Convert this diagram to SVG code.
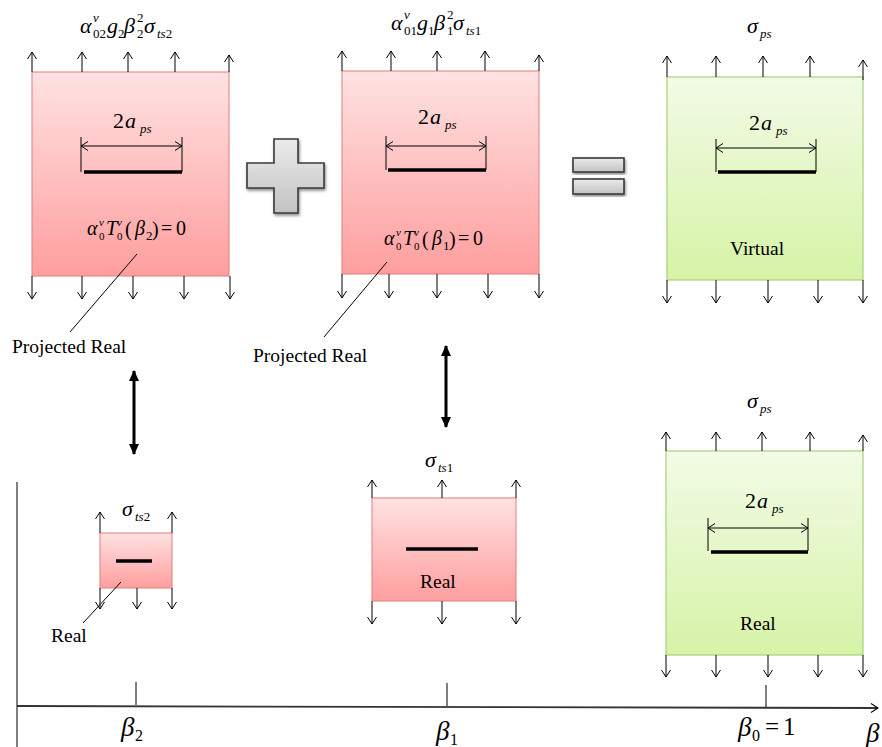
<svg xmlns="http://www.w3.org/2000/svg" width="882" height="747" viewBox="0 0 882 747" font-family="'Liberation Serif', 'DejaVu Serif', serif">
  <defs>
    <linearGradient id="pinkFill" x1="0" y1="0" x2="0" y2="1">
      <stop offset="0" stop-color="#FFE2E2"/>
      <stop offset="1" stop-color="#FF9E9E"/>
    </linearGradient>
    <linearGradient id="greenFill" x1="0" y1="0" x2="0" y2="1">
      <stop offset="0" stop-color="#F2FBE6"/>
      <stop offset="1" stop-color="#D6F3A6"/>
    </linearGradient>
    <linearGradient id="grayFill" x1="0" y1="0" x2="0" y2="1">
      <stop offset="0" stop-color="#EBEBEB"/>
      <stop offset="1" stop-color="#C2C2C2"/>
    </linearGradient>
    <filter id="shadow" x="-20%" y="-20%" width="140%" height="140%">
      <feGaussianBlur in="SourceAlpha" stdDeviation="1.5"/>
      <feOffset dx="1" dy="1.5" result="b"/>
      <feComponentTransfer><feFuncA type="linear" slope="0.45"/></feComponentTransfer>
      <feMerge><feMergeNode/><feMergeNode in="SourceGraphic"/></feMerge>
    </filter>
    <marker id="open" viewBox="0 0 10 10" refX="9" refY="5" markerWidth="10" markerHeight="10" markerUnits="userSpaceOnUse" orient="auto-start-reverse">
      <path d="M2,0.5 L9,5 L2,9.5" fill="none" stroke="#000" stroke-width="1"/>
    </marker>
    <marker id="solid" viewBox="0 0 12 12" refX="10" refY="6" markerWidth="12" markerHeight="12" markerUnits="userSpaceOnUse" orient="auto-start-reverse">
      <path d="M0,1 L11,6 L0,11 Z" fill="#000"/>
    </marker>
  </defs>
  <style>
    .pink { fill: url(#pinkFill); stroke: #E07C7C; stroke-width: 1; }
    .green { fill: url(#greenFill); stroke: #A9CF7E; stroke-width: 1.2; }
    .force { stroke: #000; stroke-width: 1; fill: none; marker-end: url(#open); }
    .dim { stroke: #000; stroke-width: 1; fill: none; marker-start: url(#open); marker-end: url(#open); }
    .tick { stroke: #000; stroke-width: 1; }
    .crack { stroke: #000; stroke-width: 3.5; }
    .lead { stroke: #000; stroke-width: 1; fill: none; }
    .dbl { stroke: #000; stroke-width: 3; fill: none; marker-start: url(#solid); marker-end: url(#solid); }
    .sym { stroke: #3A3A3A; stroke-width: 1.6; fill: url(#grayFill); }
    text { font-family: "Liberation Serif", "DejaVu Serif", "Times New Roman", serif; fill: #000; }
    .m { font-style: italic; font-size: 22px; }
    .f { font-style: italic; font-size: 20px; }
    .r { font-style: normal; font-size: 22px; }
    .rf { font-style: normal; font-size: 20px; }
    .s { font-style: italic; font-size: 13px; }
    .n { font-size: 13px; }
    .ss { font-style: italic; font-size: 11px; }
    .nn { font-size: 11px; }
    .lbl { font-size: 19.5px; }
    .ax { font-style: italic; font-size: 27px; }
    .axs { font-size: 16px; }
    .axn { font-size: 25px; }
  </style>

  <!-- Left projected plate -->
  <g id="plate-projected-2">
    <rect class="pink" x="32" y="72" width="197" height="204"/>
    <line class="force" x1="32" y1="72" x2="32" y2="52"/>
    <line class="force" x1="82" y1="72" x2="82" y2="52"/>
    <line class="force" x1="128" y1="72" x2="128" y2="52"/>
    <line class="force" x1="175" y1="72" x2="175" y2="52"/>
    <line class="force" x1="229" y1="72" x2="229" y2="55"/>
    <line class="force" x1="32" y1="276" x2="32" y2="299"/>
    <line class="force" x1="82" y1="276" x2="82" y2="299"/>
    <line class="force" x1="133" y1="276" x2="133" y2="299"/>
    <line class="force" x1="184" y1="276" x2="184" y2="299"/>
    <line class="force" x1="230" y1="276" x2="230" y2="299"/>
    <text class="m" x="80" y="33">α</text><text class="s" x="93" y="22">v</text><text class="n" x="93" y="38">02</text>
    <text class="m" x="107" y="33">g</text><text class="n" x="118" y="38">2</text>
    <text class="m" x="124" y="33">β</text><text class="n" x="137" y="22">2</text><text class="n" x="137" y="38">2</text>
    <text class="m" x="144" y="33">σ</text><text class="s" x="157" y="38">ts<tspan font-style="normal">2</tspan></text>
    <text class="r" x="113" y="128">2</text><text class="m" x="125" y="128">a</text><text class="s" x="140" y="133">ps</text>
    <line class="tick" x1="81" y1="137" x2="81" y2="172"/>
    <line class="tick" x1="182" y1="137" x2="182" y2="172"/>
    <line class="dim" x1="81" y1="146" x2="182" y2="146"/>
    <line class="crack" x1="84" y1="172" x2="182" y2="172"/>
    <text class="f" x="87" y="235">α</text><text class="nn" x="99" y="240">0</text><text class="ss" x="99" y="226">v</text>
    <text class="f" x="106" y="235">T</text><text class="nn" x="117" y="240">0</text><text class="ss" x="117" y="226">v</text>
    <text class="rf" x="125" y="236" font-size="24">(</text>
    <text class="f" x="135" y="235">β</text><text class="n" x="146" y="240">2</text>
    <text class="rf" x="152" y="236" font-size="24">)</text>
    <text class="rf" x="161" y="235">=</text>
    <text class="rf" x="176" y="235">0</text>
  </g>

  <!-- Middle projected plate -->
  <g id="plate-projected-1">
    <rect class="pink" x="342" y="71" width="197" height="203"/>
    <line class="force" x1="342" y1="71" x2="342" y2="51"/>
    <line class="force" x1="391" y1="71" x2="391" y2="51"/>
    <line class="force" x1="437" y1="71" x2="437" y2="51"/>
    <line class="force" x1="485" y1="71" x2="485" y2="51"/>
    <line class="force" x1="539" y1="71" x2="539" y2="55"/>
    <line class="force" x1="342" y1="274" x2="342" y2="298"/>
    <line class="force" x1="389" y1="274" x2="389" y2="298"/>
    <line class="force" x1="437" y1="274" x2="437" y2="298"/>
    <line class="force" x1="488" y1="274" x2="488" y2="298"/>
    <line class="force" x1="539" y1="274" x2="539" y2="298"/>
    <text class="m" x="391" y="30">α</text><text class="s" x="404" y="19">v</text><text class="n" x="404" y="35">01</text>
    <text class="m" x="417" y="30">g</text><text class="n" x="428" y="35">1</text>
    <text class="m" x="434" y="30">β</text><text class="n" x="447" y="19">2</text><text class="n" x="447" y="35">1</text>
    <text class="m" x="453" y="30">σ</text><text class="s" x="466" y="35">ts<tspan font-style="normal">1</tspan></text>
    <text class="r" x="418" y="124">2</text><text class="m" x="430" y="124">a</text><text class="s" x="445" y="129">ps</text>
    <line class="tick" x1="386" y1="136" x2="386" y2="170"/>
    <line class="tick" x1="486" y1="136" x2="486" y2="170"/>
    <line class="dim" x1="386" y1="146" x2="486" y2="146"/>
    <line class="crack" x1="388" y1="170" x2="486" y2="170"/>
    <text class="f" x="384" y="245">α</text><text class="nn" x="396" y="250">0</text><text class="ss" x="396" y="236">v</text>
    <text class="f" x="403" y="245">T</text><text class="nn" x="414" y="250">0</text><text class="ss" x="414" y="236">v</text>
    <text class="rf" x="422" y="246" font-size="24">(</text>
    <text class="f" x="432" y="245">β</text><text class="n" x="443" y="250">1</text>
    <text class="rf" x="449" y="246" font-size="24">)</text>
    <text class="rf" x="458" y="245">=</text>
    <text class="rf" x="473" y="245">0</text>
  </g>

  <!-- Plus and equals operators -->
  <g id="op-plus">
    <path class="sym" filter="url(#shadow)" d="M274,139 H298 V163 H324 V188 H298 V213 H274 V188 H247 V163 H274 Z"/>
  </g>
  <g id="op-equals">
    <rect class="sym" filter="url(#shadow)" x="573" y="158" width="51" height="14"/>
    <rect class="sym" filter="url(#shadow)" x="573" y="179" width="51" height="15"/>
  </g>

  <!-- Virtual plate -->
  <g id="plate-virtual">
    <rect class="green" x="667" y="77" width="196" height="203"/>
    <line class="force" x1="667" y1="77" x2="667" y2="56"/>
    <line class="force" x1="716" y1="77" x2="716" y2="56"/>
    <line class="force" x1="763" y1="77" x2="763" y2="56"/>
    <line class="force" x1="810" y1="77" x2="810" y2="56"/>
    <line class="force" x1="863" y1="80" x2="863" y2="60"/>
    <line class="force" x1="667" y1="280" x2="667" y2="303"/>
    <line class="force" x1="716" y1="280" x2="716" y2="303"/>
    <line class="force" x1="768" y1="280" x2="768" y2="303"/>
    <line class="force" x1="818" y1="280" x2="818" y2="303"/>
    <line class="force" x1="863" y1="280" x2="863" y2="303"/>
    <text class="m" x="747" y="33">σ</text><text class="s" x="760" y="38">ps</text>
    <text class="r" x="749" y="130">2</text><text class="m" x="761" y="130">a</text><text class="s" x="776" y="135">ps</text>
    <line class="tick" x1="716" y1="139" x2="716" y2="172"/>
    <line class="tick" x1="816" y1="139" x2="816" y2="172"/>
    <line class="dim" x1="716" y1="148" x2="816" y2="148"/>
    <line class="crack" x1="718" y1="172" x2="816" y2="172"/>
    <text class="lbl" x="730" y="255">Virtual</text>
  </g>

  <!-- Small real plate at beta2 -->
  <g id="plate-real-2">
    <rect class="pink" x="100" y="533" width="72" height="55"/>
    <line class="force" x1="100" y1="533" x2="100" y2="512"/>
    <line class="force" x1="172" y1="533" x2="172" y2="512"/>
    <line class="force" x1="100" y1="588" x2="100" y2="609"/>
    <line class="force" x1="137" y1="588" x2="137" y2="609"/>
    <line class="force" x1="172" y1="588" x2="172" y2="609"/>
    <text class="m" x="122" y="516">σ</text><text class="s" x="135" y="521">ts<tspan font-style="normal">2</tspan></text>
    <line class="crack" x1="116" y1="561" x2="152" y2="561"/>
  </g>

  <!-- Real plate at beta1 -->
  <g id="plate-real-1">
    <rect class="pink" x="372" y="498" width="144" height="103"/>
    <line class="force" x1="372" y1="498" x2="372" y2="480"/>
    <line class="force" x1="442" y1="498" x2="442" y2="480"/>
    <line class="force" x1="516" y1="498" x2="516" y2="480"/>
    <line class="force" x1="372" y1="601" x2="372" y2="624"/>
    <line class="force" x1="442" y1="601" x2="442" y2="624"/>
    <line class="force" x1="516" y1="601" x2="516" y2="624"/>
    <text class="m" x="425" y="467">σ</text><text class="s" x="438" y="472">ts<tspan font-style="normal">1</tspan></text>
    <line class="crack" x1="406" y1="549" x2="478" y2="549"/>
    <text class="lbl" x="420" y="588">Real</text>
  </g>

  <!-- Real plate at beta0 = 1 -->
  <g id="plate-real-0">
    <rect class="green" x="666" y="451" width="197" height="204"/>
    <line class="force" x1="666" y1="451" x2="666" y2="432"/>
    <line class="force" x1="716" y1="451" x2="716" y2="432"/>
    <line class="force" x1="762" y1="451" x2="762" y2="432"/>
    <line class="force" x1="810" y1="451" x2="810" y2="432"/>
    <line class="force" x1="863" y1="451" x2="863" y2="435"/>
    <line class="force" x1="666" y1="655" x2="666" y2="677"/>
    <line class="force" x1="716" y1="655" x2="716" y2="677"/>
    <line class="force" x1="768" y1="655" x2="768" y2="677"/>
    <line class="force" x1="818" y1="655" x2="818" y2="677"/>
    <line class="force" x1="863" y1="655" x2="863" y2="677"/>
    <text class="m" x="747" y="408">σ</text><text class="s" x="760" y="413">ps</text>
    <text class="r" x="745" y="508">2</text><text class="m" x="757" y="508">a</text><text class="s" x="772" y="513">ps</text>
    <line class="tick" x1="708" y1="518" x2="708" y2="551"/>
    <line class="tick" x1="808" y1="518" x2="808" y2="551"/>
    <line class="dim" x1="708" y1="528" x2="808" y2="528"/>
    <line class="crack" x1="711" y1="552" x2="808" y2="552"/>
    <text class="lbl" x="740" y="630">Real</text>
  </g>

  <!-- Labels outside plates -->
  <g id="labels">
    <text class="lbl" x="12" y="353">Projected Real</text>
    <text class="lbl" x="253" y="362">Projected Real</text>
    <text class="lbl" x="51" y="642">Real</text>
  </g>

  <!-- Leader lines and projection arrows -->
  <g id="connectors">
    <line class="lead" x1="137" y1="254" x2="70" y2="332"/>
    <line class="lead" x1="387" y1="262" x2="324" y2="337"/>
    <line class="lead" x1="121" y1="582" x2="83" y2="623"/>
    <line class="dbl" x1="134" y1="371" x2="134" y2="454"/>
    <line class="dbl" x1="446" y1="346" x2="446" y2="427"/>
  </g>

  <!-- Beta axis -->
  <g id="axis">
    <line x1="17" y1="482" x2="17" y2="747" stroke="#000" stroke-width="1"/>
    <line x1="17" y1="706" x2="878" y2="708" stroke="#333" stroke-width="1.8" marker-end="url(#open)"/>
    <line class="tick" x1="136" y1="682" x2="136" y2="705"/>
    <line class="tick" x1="447" y1="683" x2="447" y2="706"/>
    <line class="tick" x1="766" y1="685" x2="766" y2="707"/>
    <text class="ax" x="121" y="736">β</text><text class="axs" x="135" y="741">2</text>
    <text class="ax" x="436" y="740">β</text><text class="axs" x="450" y="745">1</text>
    <text class="ax" x="738" y="736">β</text><text class="axs" x="752" y="741">0</text>
    <text class="axn" x="765" y="735">=</text><text class="axn" x="783" y="735">1</text>
    <text class="ax" x="866" y="742">β</text>
  </g>
</svg>
